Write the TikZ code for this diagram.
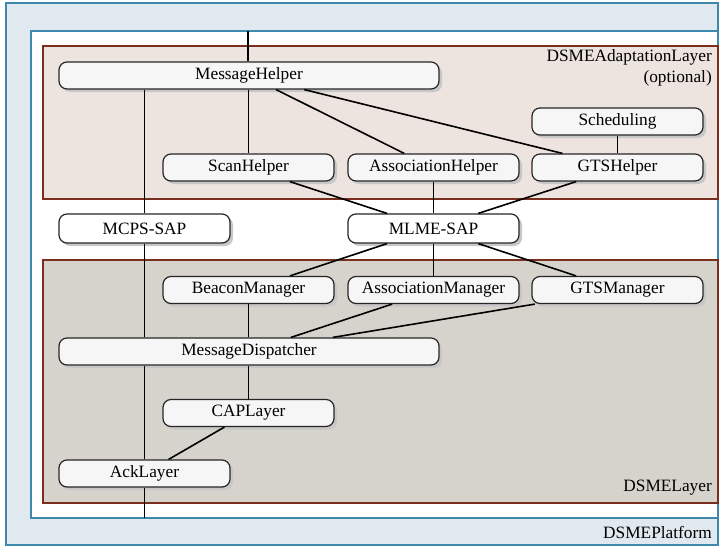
\documentclass[tikz,border=0pt]{standalone}
\usepackage{fontspec}
\setmainfont{Liberation Serif}
\newfontfamily\labelfont{Liberation Serif}
\usetikzlibrary{calc,shadows}
\definecolor{platformfill}{HTML}{E1E9F0}
\definecolor{platformline}{HTML}{3C89AC}
\definecolor{adaptfill}{HTML}{EDE3DF}
\definecolor{layerline}{HTML}{7A2E1E}
\definecolor{dsmefill}{HTML}{D6D2CC}
\definecolor{modfill}{HTML}{F6F6F6}
\tikzset{
  module/.style={draw=black!85, line width=1.2pt, fill=modfill, rounded corners=8pt,
    minimum width=171pt, minimum height=27pt, inner sep=0pt,
    font=\labelfont\fontsize{17.3}{20}\selectfont,
    drop shadow={shadow xshift=3pt, shadow yshift=-3pt, fill=black!22, opacity=1}},
  widemodule/.style={module, minimum width=380pt},
  sap/.style={module, fill=white, minimum height=29pt},
  link/.style={line width=1.6pt},
  layerlabel/.style={font=\labelfont\fontsize{17.3}{21}\selectfont, inner sep=0pt, align=right}
}
\begin{document}
\begin{tikzpicture}[x=1pt,y=-1pt]
  \useasboundingbox (0,0) rectangle (720,546);
  % platform and layers
  \draw[fill=platformfill, draw=platformline, line width=1.5pt] (6,3) rectangle (718,545);
  \draw[fill=white, draw=platformline, line width=1.5pt] (31,31) rectangle (718,518);
  \draw[fill=adaptfill, draw=layerline, line width=1.3pt] (43,46) rectangle (718,199);
  \draw[fill=dsmefill, draw=layerline, line width=1.3pt] (43,260) rectangle (718,503);
  \node[layerlabel, anchor=north east] (adaptlbl) at (712,49) {DSMEAdaptationLayer\\(optional)};
  \node[layerlabel, anchor=east] (dsmelbl) at (712,488) {DSMELayer};
  \node[layerlabel, anchor=east] (platlbl) at (712,532) {DSMEPlatform};
  \coordinate (topin) at (248,31);
  \coordinate (botout) at (144.5,518);
  % modules
  \node[widemodule] (msghelper) at (249,75.5) {MessageHelper};
  \node[module] (scheduling) at (617.5,121.5) {Scheduling};
  \node[module] (scanhelper) at (248.5,167.5) {ScanHelper};
  \node[module] (assochelper) at (433.5,167.5) {AssociationHelper};
  \node[module] (gtshelper) at (617.5,167.5) {GTSHelper};
  \node[sap] (mcps) at (144.5,228.5) {MCPS-SAP};
  \node[sap] (mlme) at (433.5,228.5) {MLME-SAP};
  \node[module] (beacon) at (248.5,290) {BeaconManager};
  \node[module] (assocmgr) at (433.5,290) {AssociationManager};
  \node[module] (gtsmgr) at (617.5,290) {GTSManager};
  \node[widemodule] (dispatcher) at (249,351.5) {MessageDispatcher};
  \node[module] (caplayer) at (248.5,413) {CAPLayer};
  \node[module] (acklayer) at (144.5,473.5) {AckLayer};
  % connectors
  \draw[link] (topin) -- (msghelper.north -| topin);
  \draw[link] (mcps.north |- msghelper.south) -- (mcps.north);
  \draw[link] (mcps.south) -- (mcps.south |- dispatcher.north);
  \draw[link] (acklayer.north |- dispatcher.south) -- (acklayer.north);
  \draw[link] (acklayer.south) -- (botout);
  \draw[link] (msghelper.south -| scanhelper.north) -- (scanhelper.north);
  \draw[link] ($(msghelper.south west)!.571!(msghelper.south east)$) -- ($(assochelper.north west)!.33!(assochelper.north east)$);
  \draw[link] ($(msghelper.south west)!.645!(msghelper.south east)$) -- ($(gtshelper.north west)!.18!(gtshelper.north east)$);
  \draw[link] (scheduling) -- (gtshelper);
  \draw[link] ($(scanhelper.south west)!.74!(scanhelper.south east)$) -- ($(mlme.north west)!.23!(mlme.north east)$);
  \draw[link] (assochelper) -- (mlme);
  \draw[link] ($(gtshelper.south west)!.26!(gtshelper.south east)$) -- ($(mlme.north west)!.76!(mlme.north east)$);
  \draw[link] ($(mlme.south west)!.23!(mlme.south east)$) -- ($(beacon.north west)!.74!(beacon.north east)$);
  \draw[link] (mlme) -- (assocmgr);
  \draw[link] ($(mlme.south west)!.76!(mlme.south east)$) -- ($(gtsmgr.north west)!.26!(gtsmgr.north east)$);
  \draw[link] (beacon.south) -- (beacon.south |- dispatcher.north);
  \draw[link] ($(assocmgr.south west)!.26!(assocmgr.south east)$) -- ($(dispatcher.north west)!.61!(dispatcher.north east)$);
  \draw[link] ($(gtsmgr.south west)!.02!(gtsmgr.south east)$) -- ($(dispatcher.north west)!.72!(dispatcher.north east)$);
  \draw[link] (dispatcher.south -| caplayer.north) -- (caplayer.north);
  \draw[link] ($(caplayer.south west)!.36!(caplayer.south east)$) -- ($(acklayer.north west)!.64!(acklayer.north east)$);
\end{tikzpicture}
\end{document}
